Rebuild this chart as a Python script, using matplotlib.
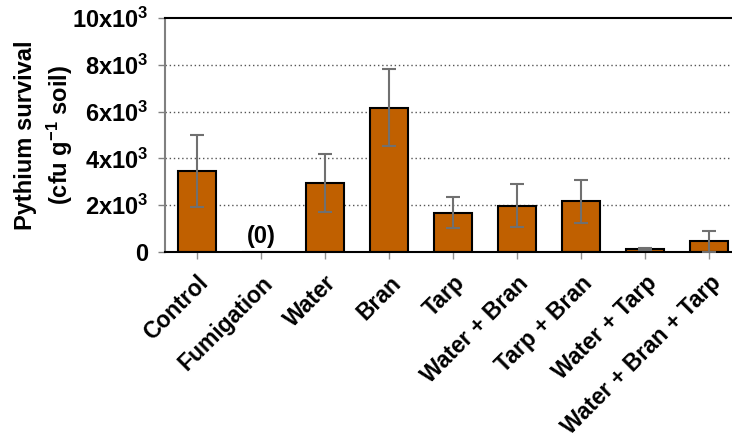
import matplotlib
matplotlib.use("Agg")
import matplotlib.pyplot as plt
import numpy as np

plt.rcParams['font.family'] = ['Liberation Sans', 'DejaVu Sans']
plt.rcParams['mathtext.fontset'] = 'custom'
plt.rcParams['mathtext.rm'] = 'Liberation Sans:bold'
plt.rcParams['mathtext.bf'] = 'Liberation Sans:bold'
plt.rcParams['mathtext.default'] = 'bf'

categories = ["Control", "Fumigation", "Water", "Bran", "Tarp",
              "Water + Bran", "Tarp + Bran", "Water + Tarp", "Water + Bran + Tarp"]
survival = [3460, 0, 2940, 6170, 1680, 1970, 2170, 130, 460]
errors = [1530, 0, 1230, 1640, 650, 920, 920, 50, 440]
ytick_vals = [0, 2000, 4000, 6000, 8000, 10000]
ytick_labels = ["0", "2x10$^{3}$", "4x10$^{3}$", "6x10$^{3}$", "8x10$^{3}$", "10x10$^{3}$"]

W, H = 732, 441
fig = plt.figure(figsize=(W / 100, H / 100), dpi=100)
ax = fig.add_axes([165 / W, 1 - 252 / H, 576 / W, 234 / H])

x = np.arange(len(categories))
ax.bar(x, survival, width=0.6, color="#C06000", edgecolor="black", linewidth=1.5, zorder=2)

has_err = [i for i, e in enumerate(errors) if e > 0]
eb = ax.errorbar(x[has_err], [survival[i] for i in has_err], yerr=[errors[i] for i in has_err],
                 fmt="none", ecolor="#707070", elinewidth=1.5, capsize=5, capthick=1.5, zorder=3)
for cap in eb[1]:
    cap.set_color("black")

# Fumigation had no recovered colonies
ax.text(1, 680, "(0)", ha="center", va="center", fontsize=17, fontweight="bold")

ax.set_xlim(-0.5, 8.5)
ax.set_ylim(0, 10000)
ax.set_yticks(ytick_vals)
ax.set_yticklabels(ytick_labels, fontsize=17, fontweight="bold")
ax.set_xticks(x)
ax.set_xticklabels(categories, rotation=45, ha="right", rotation_mode="anchor",
                   fontsize=16.5, fontweight="bold")

for y in ytick_vals[1:-1]:
    ax.axhline(y, color="#555555", linestyle=(0, (1, 2)), linewidth=1, zorder=1)

ax.tick_params(axis="y", direction="out", length=5, width=1, color="#808080", pad=7)
ax.tick_params(axis="x", direction="out", length=5, width=1, color="#909090", pad=9)

ax.spines["left"].set_color("#808080")
ax.spines["right"].set_visible(False)
ax.spines["top"].set_color("black")
ax.spines["bottom"].set_color("black")
for s in ["top", "bottom", "left"]:
    ax.spines[s].set_linewidth(1.5)

ax.set_ylabel("Pythium survival\n(cfu g$^{-1}$ soil)", fontsize=17, fontweight="bold",
              linespacing=1.3)
ax.yaxis.set_label_coords(-0.157, 0.5)

fig.savefig("out.png", dpi=100)
